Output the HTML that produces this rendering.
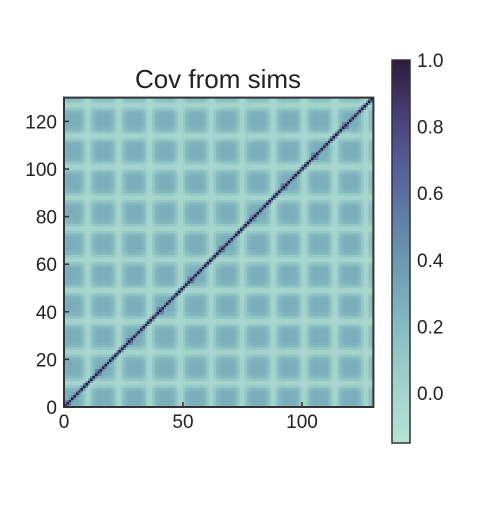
<!DOCTYPE html>
<html><head><meta charset="utf-8"><style>
body{margin:0;background:#fff;font-family:"Liberation Sans",sans-serif;}
#wrap{position:relative;width:500px;height:500px;}
</style></head><body>
<div id="wrap">
<svg id="svg" width="500" height="500" xmlns="http://www.w3.org/2000/svg">
<defs>
<linearGradient id="cbg" x1="0" y1="1" x2="0" y2="0">
<stop offset="0" stop-color="#b6e3d5"/>
<stop offset="0.13" stop-color="#a5d5cc"/>
<stop offset="0.30" stop-color="#87bcc2"/>
<stop offset="0.48" stop-color="#6a98b0"/>
<stop offset="0.65" stop-color="#5a6fa2"/>
<stop offset="0.83" stop-color="#4c4681"/>
<stop offset="1" stop-color="#2c1b3b"/>
</linearGradient>
</defs>
<text x="218" y="88" font-size="26" text-anchor="middle" fill="#222">Cov from sims</text>
<foreignObject x="64" y="97.6" width="309.4" height="309.4">
<canvas id="cv" width="130" height="130" style="width:309.4px;height:309.4px;display:block;image-rendering:pixelated"></canvas>
</foreignObject>
<rect x="64" y="97.6" width="309.4" height="309.4" fill="none" stroke="#333" stroke-width="2"/>
<g id="xt"></g>
<g id="yt"></g>
<rect x="392" y="60" width="18" height="383" fill="url(#cbg)" stroke="#333" stroke-width="1.5"/>
<g id="ct"></g>
</svg>
</div>
<script>
const xTicks=[0,50,100];
const yTicks=[0,20,40,60,80,100,120];
const cbTicks=[0.0,0.2,0.4,0.6,0.8,1.0];
const cbLabels=["0.0","0.2","0.4","0.6","0.8","1.0"];
const nPix=130, blockSize=13;
const blockProfile=[0.9,1,1,1,1,1,0.95,0.8,0.45,0.1,0.1,0.45,0.8];
const baseVal=[-0.02];
const blockAmp=[0.3];
const diagPeak=[0.7];
const peakRows=[0,1,2];
const vmin=-0.15, vmax=1.0;
const X0=64,Y0=407,S=2.38;
const sx=v=>X0+v*S, sy=v=>Y0-v*S;
const cbY=v=>443-(v-vmin)/(vmax-vmin)*383;
const ns="http://www.w3.org/2000/svg";
function mk(t,a,p){const e=document.createElementNS(ns,t);for(const k in a)e.setAttribute(k,a[k]);p.appendChild(e);return e;}
const xt=document.getElementById('xt'),yt=document.getElementById('yt'),ct=document.getElementById('ct');
xTicks.forEach(v=>{
 const l=mk('line',{x1:sx(v),x2:sx(v),y1:407,y2:402,stroke:'#333','stroke-width':1.5},xt);
 
 
 const t=mk('text',{x:sx(v),y:428,'font-size':19,'text-anchor':'middle',fill:'#222'},xt);t.textContent=v;
 
 
});
yTicks.forEach(v=>{
 const l=mk('line',{x1:64,x2:69,y1:sy(v),y2:sy(v),stroke:'#333','stroke-width':1.5},yt);
 
 
 const t=mk('text',{x:57,y:sy(v)+7,'font-size':19,'text-anchor':'end',fill:'#222'},yt);t.textContent=v;
 
 
});
cbTicks.forEach((v,i)=>{
 const t=mk('text',{x:417,y:cbY(v)+7,'font-size':19,fill:'#222'},ct);t.textContent=cbLabels[i];
 
 
});
const stops=[[0,[182,227,213]],[0.13,[165,213,204]],[0.30,[135,188,194]],[0.48,[106,152,176]],[0.65,[90,111,162]],[0.83,[76,70,129]],[1,[44,27,59]]];
function cmap(v){let t=Math.max(0,Math.min(1,(v-vmin)/(vmax-vmin)));
 for(let k=1;k<stops.length;k++){if(t<=stops[k][0]){const a=stops[k-1],b=stops[k],f=(t-a[0])/(b[0]-a[0]);return a[1].map((c,i)=>Math.round(c+(b[1][i]-c)*f));}}return stops[6][1];}
const ctx=document.getElementById('cv').getContext('2d');
const img=ctx.createImageData(nPix,nPix);
for(let i=0;i<nPix;i++)for(let j=0;j<nPix;j++){
 let v=baseVal[0]+blockAmp[0]*blockProfile[i%blockSize]*blockProfile[j%blockSize];
 const d=Math.abs(i-j);
 if(d===0)v=1;
 else if(d<=2&&peakRows.includes(i%blockSize)&&peakRows.includes(j%blockSize))v=Math.max(v,diagPeak[0]-0.12*d);
 else if(d===1)v=Math.max(v,0.45);
 const col=cmap(v);const r=nPix-1-j;const idx=(r*nPix+i)*4;
 img.data[idx]=col[0];img.data[idx+1]=col[1];img.data[idx+2]=col[2];img.data[idx+3]=255;
}
ctx.putImageData(img,0,0);
</script>
</body></html>
